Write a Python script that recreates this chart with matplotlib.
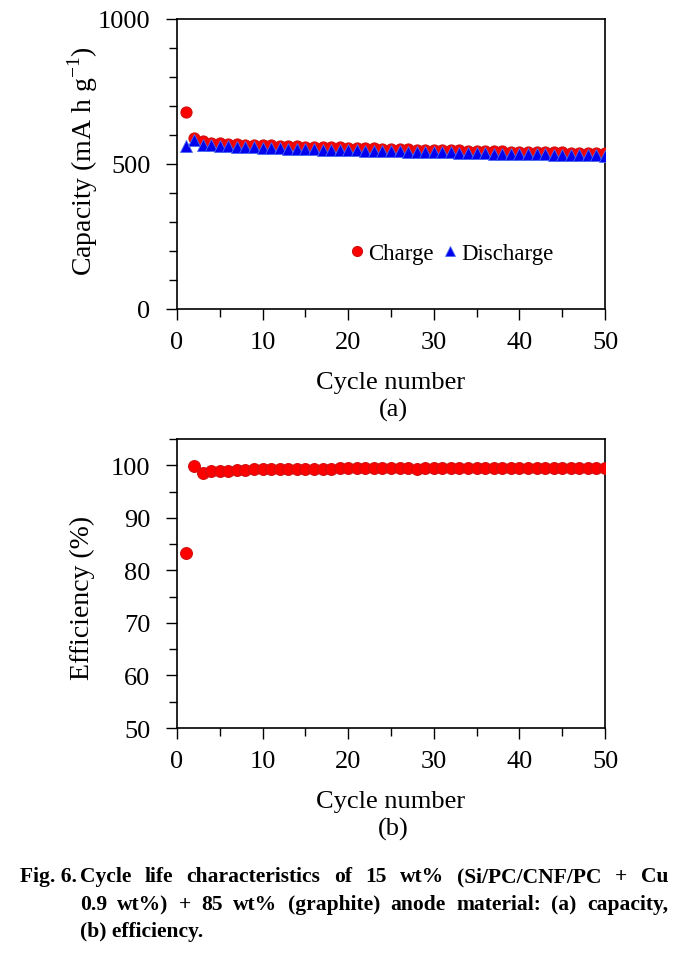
import matplotlib
matplotlib.use("Agg")
import matplotlib.pyplot as plt
from matplotlib.ticker import MultipleLocator

cycles = list(range(1, 51))
charge = [678, 588, 578, 574, 572, 570, 568, 567, 566, 565,
          564, 563, 562, 561, 560, 559, 558, 557, 557, 556,
          555, 554, 554, 553, 552, 552, 551, 550, 550, 549,
          548, 548, 547, 546, 546, 545, 544, 544, 543, 543,
          542, 541, 541, 540, 540, 539, 539, 538, 538, 537]
discharge = [562, 582, 565, 564, 562, 561, 559, 558, 557, 556,
             555, 554, 553, 552, 552, 551, 550, 549, 549, 548,
             547, 546, 546, 545, 544, 544, 543, 542, 542, 541,
             540, 540, 539, 538, 538, 537, 536, 536, 535, 535,
             534, 533, 533, 532, 532, 531, 531, 530, 530, 529]
efficiency = [83.3, 99.9, 98.6, 98.9, 99.0, 99.0, 99.1, 99.1, 99.2, 99.2,
              99.2, 99.3, 99.3, 99.3, 99.3, 99.3, 99.3, 99.3, 99.4, 99.4,
              99.4, 99.4, 99.4, 99.4, 99.4, 99.4, 99.4, 99.3, 99.4, 99.4,
              99.4, 99.4, 99.4, 99.4, 99.4, 99.4, 99.4, 99.4, 99.4, 99.4,
              99.5, 99.5, 99.5, 99.5, 99.5, 99.5, 99.5, 99.5, 99.5, 99.5]

plt.rcParams['font.family'] = ['Liberation Serif', 'DejaVu Serif']
plt.rcParams['mathtext.fontset'] = 'custom'
plt.rcParams['mathtext.rm'] = 'Liberation Serif'

fig = plt.figure(figsize=(6.94, 9.54), dpi=100)
W, H = 694, 954

def axes_px(l, t, r, b):
    return fig.add_axes([l / W, 1 - b / H, (r - l) / W, (b - t) / H])

ax1 = axes_px(177, 20, 605, 310)
ax2 = axes_px(177, 440, 605, 729)

red = '#ff0000'
red_edge = '#d01010'
blue = '#0000ee'

ax1.plot(cycles, charge, 'o', ms=8, mfc=red, mec=red_edge, mew=0.8, label='Charge', zorder=3)
ax1.plot(cycles, discharge, '^', ms=8, mfc=blue, mec='#4a6cf0', mew=0.6, label='Discharge', zorder=4)
ax2.plot(cycles, efficiency, 'o', ms=8.5, mfc=red, mec=red_edge, mew=0.8, zorder=3)

for ax in (ax1, ax2):
    ax.set_xlim(0, 50)
    ax.xaxis.set_major_locator(MultipleLocator(10))
    ax.xaxis.set_minor_locator(MultipleLocator(5))
    ax.tick_params(which='both', direction='out', top=False, right=False, width=1.0)
    ax.tick_params(which='major', length=8, labelsize=19)
    ax.tick_params(which='minor', length=6)
    ax.tick_params(axis='x', which='major', pad=8)
    ax.tick_params(axis='y', which='major', pad=11)
    for s in ax.spines.values():
        s.set_linewidth(1.2)
    ax.set_xlabel('Cycle number', fontsize=19)
    ax.xaxis.label.set_va('baseline')

ax1.set_ylim(0, 1000)
ax1.yaxis.set_major_locator(MultipleLocator(500))
ax1.yaxis.set_minor_locator(MultipleLocator(100))
ax1.set_ylabel('Capacity (mA h g$^{-1}$)', fontsize=20)
ax1.yaxis.label.set_va('center')
ax1.yaxis.set_label_coords((83 - 177) / 428, (310 - 161) / 290)
ax1.xaxis.set_label_coords(0.5, (310 - 389) / 290)

ax2.set_ylim(50, 105)
ax2.yaxis.set_major_locator(MultipleLocator(10))
ax2.yaxis.set_minor_locator(MultipleLocator(5))
ax2.set_ylabel('Efficiency (%)', fontsize=20)
ax2.yaxis.label.set_va('center')
ax2.yaxis.set_label_coords((82 - 177) / 428, (729 - 598) / 289)
ax2.xaxis.set_label_coords(0.5, (729 - 808) / 289)

leg = ax1.legend(loc='center', bbox_to_anchor=((450 - 177) / 428, (310 - 254) / 290),
                 frameon=False, ncol=2, fontsize=16.5, handletextpad=0.05,
                 columnspacing=0.25, handlelength=0.9, markerscale=0.9,
                 borderpad=0.0, borderaxespad=0.0)

fig.text(393 / W, 1 - 410 / H, '(a)', fontsize=19, ha='center', va='center')
fig.text(393 / W, 1 - 829 / H, '(b)', fontsize=19, ha='center', va='center')

# caption, justified
cap_font = dict(fontsize=15.5, fontweight='bold', family='Liberation Serif', va='baseline')
fig.text(20 / W, 1 - 882 / H, 'Fig. 6.', ha='left', **cap_font)
renderer = fig.canvas.get_renderer()

def justify(words, x0, x1, ybase):
    texts = [fig.text(0, 1 - ybase / H, w, ha='left', **cap_font) for w in words]
    widths = [t.get_window_extent(renderer).width for t in texts]
    gap = (x1 - x0 - sum(widths)) / (len(words) - 1)
    x = x0
    for t, w in zip(texts, widths):
        t.set_x(x / W)
        x += w + gap

def plain(words, x0, ybase):
    fig.text(x0 / W, 1 - ybase / H, ' '.join(words), ha='left', **cap_font)

justify('Cycle life characteristics of 15 wt% (Si/PC/CNF/PC + Cu'.split(), 80, 668, 882)
justify('0.9 wt%) + 85 wt% (graphite) anode material: (a) capacity,'.split(), 80, 668, 910)
plain('(b) efficiency.'.split(), 80, 937)

fig.savefig('out.png', dpi=100)
